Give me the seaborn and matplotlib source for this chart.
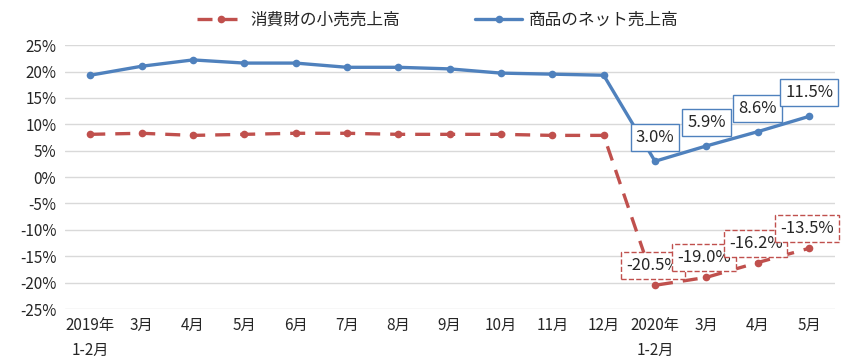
import numpy as np
import pandas as pd
import seaborn as sns
import matplotlib.pyplot as plt
from matplotlib.ticker import FuncFormatter

# データ
months = ["2019年\n1-2月", "3月", "4月", "5月", "6月", "7月", "8月", "9月",
          "10月", "11月", "12月", "2020年\n1-2月", "3月", "4月", "5月"]
retail = [8.1, 8.3, 7.9, 8.1, 8.3, 8.3, 8.1, 8.1, 8.1, 7.9, 7.9,
          -20.5, -19.0, -16.2, -13.5]
online = [19.3, 21.0, 22.2, 21.6, 21.6, 20.8, 20.8, 20.5, 19.7, 19.5, 19.3,
          3.0, 5.9, 8.6, 11.5]
retail_name = "消費財の小売売上高"
online_name = "商品のネット売上高"

df = pd.DataFrame({"idx": np.arange(len(months)), retail_name: retail, online_name: online})

sns.set_theme(style="white")
plt.rcParams['font.family'] = ['Noto Sans CJK JP', 'DejaVu Sans']

red = "#C0504D"
blue = "#4F81BD"

fig, ax = plt.subplots(figsize=(8.5, 3.64), dpi=100)
fig.subplots_adjust(left=0.076, right=0.982, top=0.876, bottom=0.151)

sns.lineplot(data=df, x="idx", y=retail_name, ax=ax, color=red, lw=2.4,
             linestyle=(0, (4.5, 3)), marker="o", markersize=5.5, markeredgewidth=0,
             label=retail_name)
sns.lineplot(data=df, x="idx", y=online_name, ax=ax, color=blue, lw=2.4,
             marker="o", markersize=5.5, markeredgewidth=0, label=online_name)

# 2020年のデータラベル
for i in range(11, len(months)):
    ax.annotate(f"{online[i]:.1f}%", (i, online[i]), xytext=(0, 17),
                textcoords="offset points", ha="center", va="center", fontsize=12,
                bbox=dict(boxstyle="square,pad=0.3", fc="white", ec=blue, lw=1))
    ax.annotate(f"{retail[i]:.1f}%", (i, retail[i]), xytext=(-1.5, 14),
                textcoords="offset points", ha="center", va="center", fontsize=12,
                bbox=dict(boxstyle="square,pad=0.3", fc="white", ec=red, lw=1,
                          linestyle="--"))

ax.set_xlim(-0.5, len(months) - 0.5)
ax.set_ylim(-25, 25)
ax.set_yticks(range(-25, 26, 5))
ax.yaxis.set_major_formatter(FuncFormatter(lambda v, p: f"{int(v)}%"))
ax.set_xticks(range(len(months)))
ax.set_xticklabels(months, fontsize=11, linespacing=1.6, va="top")
ax.tick_params(axis="y", labelsize=11, length=0, pad=6)
ax.tick_params(axis="x", length=0, pad=6)
ax.grid(axis="y", color="#D9D9D9", lw=1)
ax.set_axisbelow(True)
for s in ax.spines.values():
    s.set_visible(False)
ax.set_xlabel("")
ax.set_ylabel("")

ax.legend(loc="center", bbox_to_anchor=(0.515, 0.945), bbox_transform=fig.transFigure,
          ncol=2, frameon=False, fontsize=12, columnspacing=4.5, handlelength=2.8,
          handletextpad=0.4)

plt.savefig("out.png", dpi=100)
